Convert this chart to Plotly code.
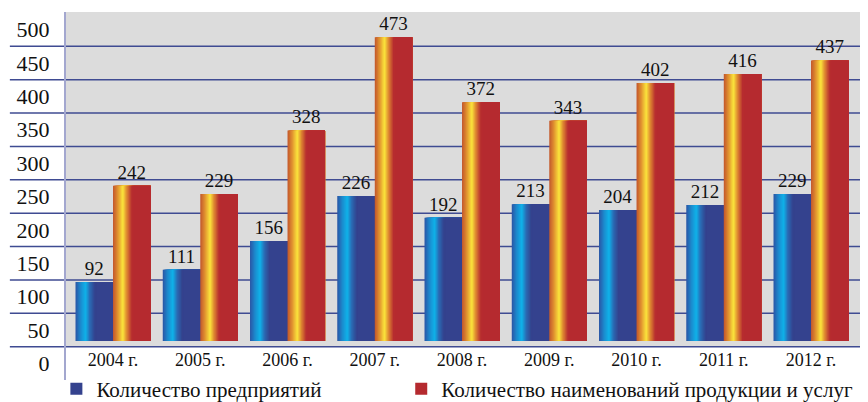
import plotly.graph_objects as go

# ---- data ----
years = ["2004 г.", "2005 г.", "2006 г.", "2007 г.", "2008 г.", "2009 г.", "2010 г.", "2011 г.", "2012 г."]
enterprises = [92, 111, 156, 226, 192, 213, 204, 212, 229]
products = [242, 229, 328, 473, 372, 343, 402, 416, 437]
y_tick_labels = ["0", "50", "100", "150", "200", "250", "300", "350", "400", "450", "500"]
name_enterprises = "Количество предприятий"
name_products = "Количество наименований продукции и услуг"

# ---- styling ----
FONT = "Liberation Serif, DejaVu Serif, serif"
BAR_W = 0.43          # width of one bar in category units
N_STRIPS = 26         # strips used to fake the horizontal gradient
GRAD_END = 0.55       # fraction of bar width where the gradient ends
PAGE_PAD = 8          # default body margin of the html page

blue_stops = [(0.0, "#2b55a5"), (0.14, "#1c8ccf"), (0.27, "#0fb3ea"), (0.38, "#2a6cb5"),
              (0.52, "#34428e"), (1.0, "#34428e")]
red_stops = [(0.0, "#c2552c"), (0.14, "#e49a31"), (0.26, "#fbe63c"), (0.36, "#e08d31"),
             (0.50, "#b72c30"), (1.0, "#b52a2f")]


def hex2rgb(h):
    h = h.lstrip("#")
    return tuple(int(h[i:i + 2], 16) for i in (0, 2, 4))


def interp(stops, f):
    for (f0, c0), (f1, c1) in zip(stops[:-1], stops[1:]):
        if f0 <= f <= f1:
            t = 0 if f1 == f0 else (f - f0) / (f1 - f0)
            a, b = hex2rgb(c0), hex2rgb(c1)
            r = [round(a[k] + (b[k] - a[k]) * t) for k in range(3)]
            return "rgb(%d,%d,%d)" % tuple(r)
    return stops[-1][1]


fig = go.Figure()


def add_gradient_bars(values, stops, base_offset, name, legend_id):
    fracs = [GRAD_END * i / N_STRIPS for i in range(N_STRIPS)] + [GRAD_END]
    for i, f in enumerate(fracs):
        last = i == len(fracs) - 1
        fmid = f + (GRAD_END / N_STRIPS) / 2 if not last else 1.0
        color = stops[-1][1] if last else interp(stops, fmid)
        kw = {}
        if i == 0:
            kw = dict(text=[str(v) for v in values], textposition="outside",
                      textfont=dict(family=FONT, size=19, color="#111111"),
                      textangle=0, constraintext="none", cliponaxis=False)
        fig.add_trace(go.Bar(
            x=years, y=values,
            offset=base_offset + f * BAR_W,
            width=(1 - f) * BAR_W,
            marker=dict(color=color, line=dict(width=0)),
            name=name, showlegend=last, legendgroup=name, legend=legend_id,
            hoverinfo="skip" if not last else None,
            **kw))


add_gradient_bars(enterprises, blue_stops, -BAR_W, name_enterprises, "legend")
add_gradient_bars(products, red_stops, 0.0, name_products, "legend2")

# ---- y axis geometry (labels sit between gridlines, as in the original) ----
Y_MIN, Y_MAX = -60.7, 512.5
GRID0, STEP = -8.9, 52.0
grid_vals = [GRID0 + STEP * k for k in range(10)]
label_vals = [GRID0 - STEP / 2 + STEP * k for k in range(len(y_tick_labels))]

shapes = [dict(type="rect", xref="paper", yref="y", x0=0, x1=1, y0=GRID0, y1=Y_MAX,
               fillcolor="#dcdcdc", line=dict(width=0), layer="below")]
for g in grid_vals:
    shapes.append(dict(type="line", xref="paper", yref="y", x0=-0.07, x1=1, y0=g, y1=g,
                       line=dict(color="#3f4b92", width=1.5), layer="below"))

legend_common = dict(orientation="h", xanchor="left", y=-0.025, yanchor="middle",
                     font=dict(family=FONT, size=21, color="#111111"),
                     bgcolor="rgba(0,0,0,0)", itemclick=False, itemdoubleclick=False)

fig.update_layout(
    width=868 - PAGE_PAD, height=402 - PAGE_PAD,
    margin=dict(l=66 - PAGE_PAD, r=0, t=12 - PAGE_PAD, b=22, autoexpand=False),
    paper_bgcolor="white", plot_bgcolor="white",
    barmode="overlay",
    font=dict(family=FONT, color="#111111"),
    shapes=shapes,
    showlegend=True,
    legend=dict(x=-0.012, **legend_common),
    legend2=dict(x=0.418, **legend_common),
    xaxis=dict(type="category", range=[-0.539, 8.653], anchor="free", position=0.0905,
               showgrid=False, zeroline=False, showline=False, ticks="", automargin=False,
               tickfont=dict(family=FONT, size=18, color="#111111")),
    yaxis=dict(range=[Y_MIN, Y_MAX], tickvals=label_vals, ticktext=y_tick_labels,
               showgrid=False, zeroline=False, showline=True, linecolor="#a3a7cf",
               linewidth=2, ticks="", ticklabelstandoff=10, automargin=False,
               tickfont=dict(family=FONT, size=22, color="#111111")),
)

fig.write_html("out.html")
